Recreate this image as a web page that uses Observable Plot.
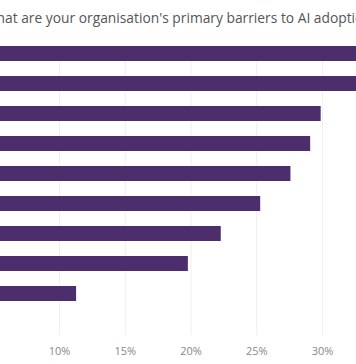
<!DOCTYPE html>
<html>
<head>
<meta charset="utf-8">
<script src="https://cdn.jsdelivr.net/npm/d3@7"></script>
<script src="https://cdn.jsdelivr.net/npm/@observablehq/plot@0.6"></script>
<style>
  html, body { margin: 0; padding: 0; background: #fff; overflow: hidden; width: 356px; height: 364px; }
  #title { position: relative; height: 35px; line-height: 35px; font-family: "Open Sans", sans-serif; font-size: 13.8px; color: #555; white-space: nowrap; }
  #title span { position: absolute; left: 0; top: 0; }
  #chart svg { display: block; }
</style>
</head>
<body>
<div id="title"><span id="titletext">What are your organisation's primary barriers to AI adoption?</span></div>
<div id="chart"></div>
<script>
const titleText = "What are your organisation's primary barriers to AI adoption?";
// Category labels are outside the visible crop; neutral identifiers are used.
const categories = ["B1", "B2", "B3", "B4", "B5", "B6", "B7", "B8", "B9"];
const values = [36, 34, 29.9, 29.1, 27.6, 25.3, 22.3, 19.8, 11.3];
const tickValues = [10, 15, 20, 25, 30];

const data = categories.map((c, i) => ({category: c, value: values[i]}));

// position title so that the leading "W" is cropped like the reference
const span = document.getElementById("titletext");
const ctx = document.createElement("canvas").getContext("2d");
ctx.font = '13.8px "Open Sans"';
const wh = ctx.measureText("Wh").width;
span.style.left = (-wh + 5) + "px";

const chart = Plot.plot({
  width: 356,
  height: 329,
  marginLeft: 0,
  marginRight: 0,
  marginTop: 10,
  marginBottom: 29,
  style: {fontFamily: '"Open Sans", sans-serif', fontSize: "11px", color: "#888", background: "#fff"},
  x: {domain: [5.513, 32.586], ticks: tickValues, tickFormat: d => d + "%", grid: false, label: null},
  y: {domain: categories, paddingInner: 0.5, paddingOuter: 0.5833, align: 1/35, axis: null},
  marks: [
    Plot.ruleX(tickValues, {stroke: "#efefef", strokeWidth: 1}),
    Plot.barX(data, {x1: 0, x2: "value", y: "category", fill: "#4b2e6b", clip: true}),
    Plot.axisX(tickValues, {tickSize: 0, tickPadding: 12, tickFormat: d => d + "%", fill: "#888", label: null})
  ]
});
document.getElementById("chart").appendChild(chart);
</script>
</body>
</html>
